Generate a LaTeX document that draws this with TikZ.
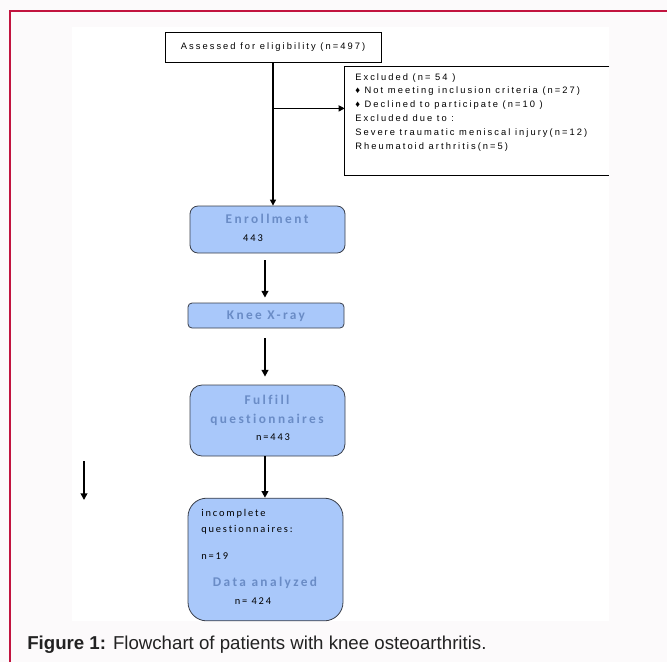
\documentclass[tikz,border=0pt]{standalone}
\usepackage{fontspec}
\setmainfont{Liberation Sans}
\newfontfamily\flowfont[LetterSpace=22]{Liberation Sans}
\newfontfamily\headfont[LetterSpace=18,Ligatures=NoCommon]{Carlito}
\usepackage{tikz}
\usetikzlibrary{arrows.meta,positioning,calc}
\definecolor{Frame}{HTML}{C2143F}
\definecolor{Page}{HTML}{FCFAFB}
\definecolor{BoxBlue}{HTML}{A9C8FA}
\definecolor{HeadBlue}{HTML}{6A8CC6}
\definecolor{Edge}{HTML}{3A3F4A}
\definecolor{Caption}{HTML}{222222}

\begin{document}
\begin{tikzpicture}[
  x=0.75pt,y=-0.75pt,
  plain/.style={draw=black,line width=0.6pt,fill=white,font=\flowfont\fontsize{7}{8}\selectfont,inner sep=0pt},
  stage/.style={draw=Edge,line width=0.6pt,fill=BoxBlue,minimum width=116.25pt,inner sep=0pt},
  head/.style={font=\headfont\bfseries\fontsize{10}{11}\selectfont,text=HeadBlue,inner sep=0pt},
  count/.style={font=\headfont\fontsize{7.8}{9}\selectfont,inner sep=0pt},
  arrow/.style={-{Triangle[length=5pt,width=5pt]},line width=1.5pt},
  thin arrow/.style={-{Triangle[length=4.5pt,width=4.5pt]},line width=0.9pt}
]
\useasboundingbox (0,0) rectangle (667,662);
% page and panel
\fill[Page] (0,0) rectangle (667,662);
\fill[white] (72,27) rectangle (609,621);
\draw[Frame,line width=1.5pt] (10,662) -- (10,11) -- (667,11);

% screening
\node[plain,minimum width=162pt,minimum height=22.5pt] (assess) at (273,47) {Assessed for eligibility (n=497)};
\node[minimum width=198pt,minimum height=81pt,inner sep=0pt] (excl) at (477,121) {};
\draw[line width=0.6pt] (excl.north east) -- (excl.north west) -- (excl.south west) -- (excl.south east);
\node[anchor=north west,align=left,inner sep=0pt,font=\flowfont\fontsize{7}{10.35}\selectfont] (excltxt) at (355,73)
  {Excluded (n= 54 )\\
   {\scriptsize ♦} Not meeting inclusion criteria (n=27)\\
   {\scriptsize ♦} Declined to participate (n=10 )\\
   Excluded due to :\\
   Severe traumatic meniscal injury(n=12)\\
   Rheumatoid arthritis(n=5)};

% stages
\node[stage,rounded corners=6pt,minimum height=35.25pt] (enrol) at (267.5,229.5) {};
\node[head] (enrolhead) at (267,219) {Enrollment};
\node[count] (enrolcount) at (253,238) {443};

\node[stage,rounded corners=3pt,minimum width=117pt,minimum height=18.75pt] (xray) at (266,315.5) {};
\node[head] (xrayhead) at (266,316) {Knee X-ray};

\node[stage,rounded corners=9pt,minimum height=53.25pt] (fulfil) at (267.5,420.5) {};
\node[head] (fulfilhead) at (267,400) {Fulfill};
\node[head] (fulfilhead2) at (267,420) {questionnaires};
\node[count] (fulfilcount) at (273,437) {n=443};

\node[stage,rounded corners=14pt,minimum height=92pt] (last) at (265.5,559.5) {};
\node[count,anchor=west] (incomplete) at (201,514) {incomplete};
\node[count,anchor=west] (incomplete2) at (201,530) {questionnaires:};
\node[count,anchor=west] (incompletecount) at (201,556) {n=19};
\node[head] (analyzed) at (265,583) {Data analyzed};
\node[count] (analyzedcount) at (253,601) {n= 424};

% connectors
\coordinate (branch) at ($(assess.south)+(0,46)$);
\draw[thin arrow] (assess.south) -- (assess.south |- enrol.north);
\draw[thin arrow] (branch) -- (branch -| excl.west);
\draw[arrow] ([xshift=-1.9pt,yshift=-5.25pt]enrol.south) -- ([xshift=-1.9pt,yshift=3.75pt]enrol.south |- xray.north);
\draw[arrow] ([xshift=-0.75pt,yshift=-7.5pt]xray.south) -- ([xshift=-0.75pt,yshift=6pt]xray.south |- fulfil.north);
\draw[arrow] ([xshift=-1.9pt]fulfil.south) -- ([xshift=-1.9pt]fulfil.south |- last.north);
\coordinate (strayTop) at (84,461);
\coordinate (strayEnd) at (84,500);
\draw[arrow] (strayTop) -- (strayEnd);

% caption
\node[anchor=west,inner sep=0pt,text=Caption,font=\fontsize{14}{16}\selectfont] (caption) at (27,645)
  {\textbf{Figure 1:} Flowchart of patients with knee osteoarthritis.};
\end{tikzpicture}
\end{document}
